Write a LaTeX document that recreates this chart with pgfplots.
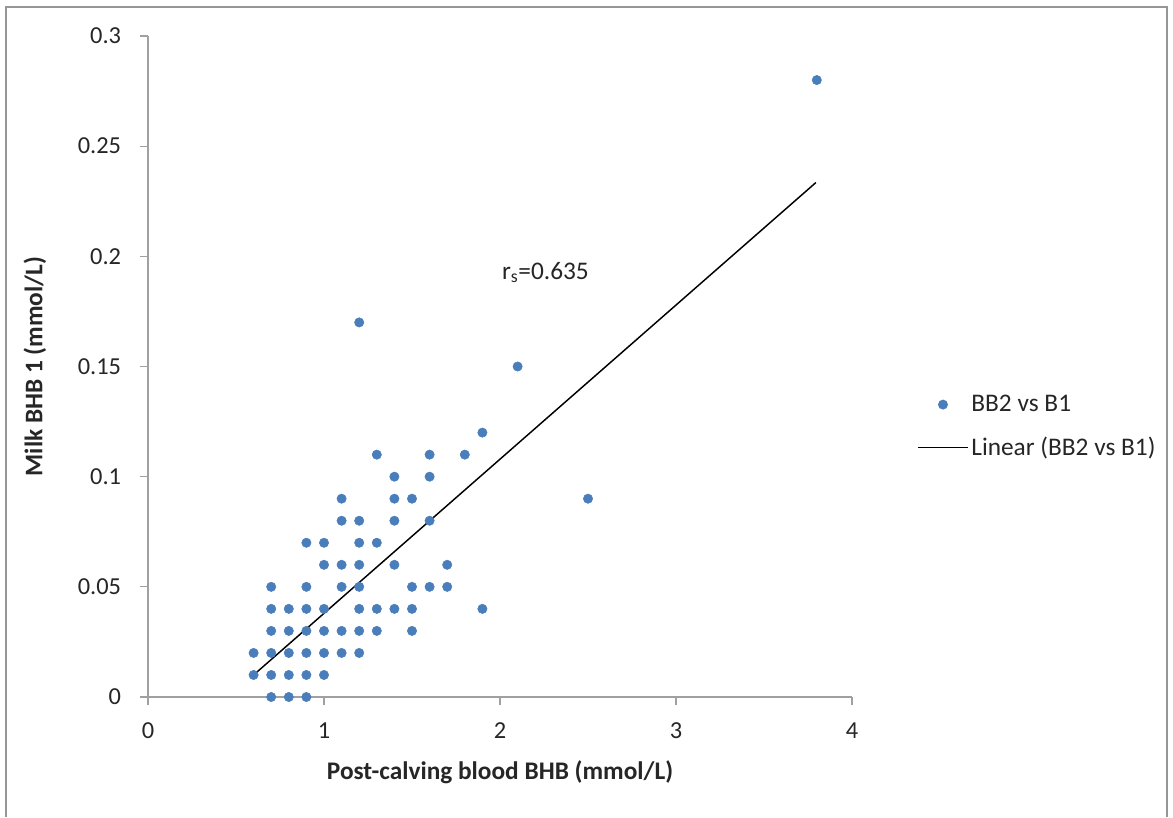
\documentclass[border=0pt]{standalone}
\usepackage{pgfplots}
\pgfplotsset{compat=1.18}
\usepackage{fontspec}
\setmainfont{Carlito}
\definecolor{ptblue}{RGB}{74,126,187}
\definecolor{axgray}{RGB}{160,160,160}
\definecolor{framegray}{RGB}{150,150,150}
\begin{document}
\begin{tikzpicture}
\begin{axis}[
  name=ax,
  anchor=south west, at={(0,0)},
  scale only axis,
  width=528pt, height=495.75pt,
  xmin=0, xmax=4, ymin=0, ymax=0.3,
  axis x line=bottom, axis y line=left,
  axis line style={-, draw=axgray, line width=0.9pt},
  tick style={draw=axgray, line width=0.9pt},
  tick align=outside,
  major tick length=6pt,
  xtick={0,1,2,3,4},
  xticklabels={0,1,2,3,4},
  ytick={0,0.05,0.1,0.15,0.2,0.25,0.3},
  yticklabels={0,0.05,0.1,0.15,0.2,0.25,0.3},
  ticklabel style={font=\fontsize{18.3}{22}\selectfont, text=black!85},
  xticklabel style={anchor=center, inner sep=0pt, yshift=-19pt},
  yticklabel style={anchor=east, inner sep=0pt, xshift=-14pt},
  xlabel={Post-calving blood BHB (mmol/L)},
  ylabel={Milk BHB 1 (mmol/L)},
  label style={font=\fontsize{19}{22}\selectfont\bfseries, text=black!85},
  xlabel style={at={(axis description cs:0.5,-0.1135)}, anchor=center},
  ylabel style={at={(axis description cs:-0.1605,0.5)}, anchor=center, rotate=0},
  clip=false,
  legend style={draw=none, fill=none, inner sep=0pt,
    at={(rel axis cs:1.0923,0.4092)}, anchor=west,
    font=\fontsize{19}{22}\selectfont, text=black!85,
    row sep=13.5pt},
  legend cell align=left,
]
\addplot[only marks, mark=*, mark size=3.5pt, color=ptblue,
  legend image code/.code={\fill[ptblue] (18.75pt,0) circle (3.5pt); \path[draw=none] (0,0) -- (37.5pt,0);}]
  table {
x y
0.6 0.01
0.6 0.02
0.7 0.00
0.7 0.01
0.7 0.02
0.7 0.03
0.7 0.04
0.7 0.05
0.8 0.00
0.8 0.01
0.8 0.02
0.8 0.03
0.8 0.04
0.9 0.00
0.9 0.01
0.9 0.02
0.9 0.03
0.9 0.04
0.9 0.05
0.9 0.07
1.0 0.01
1.0 0.02
1.0 0.03
1.0 0.04
1.0 0.06
1.0 0.07
1.1 0.02
1.1 0.03
1.1 0.05
1.1 0.06
1.1 0.08
1.1 0.09
1.2 0.02
1.2 0.03
1.2 0.04
1.2 0.05
1.2 0.06
1.2 0.07
1.2 0.08
1.2 0.17
1.3 0.03
1.3 0.04
1.3 0.07
1.3 0.11
1.4 0.04
1.4 0.06
1.4 0.08
1.4 0.09
1.4 0.10
1.5 0.03
1.5 0.04
1.5 0.05
1.5 0.09
1.6 0.05
1.6 0.08
1.6 0.10
1.6 0.11
1.7 0.05
1.7 0.06
1.8 0.11
1.9 0.04
1.9 0.12
2.1 0.15
2.5 0.09
3.8 0.28
};
\addlegendentry{BB2 vs B1}
\addplot[black, line width=1.1pt, no marks,
  legend image code/.code={\draw[black, line width=1.1pt] (0,0) -- (37.5pt,0);}]
  coordinates {(0.6,0.0100) (3.795,0.2335)};
\addlegendentry{Linear (BB2 vs B1)}
\node[anchor=base, font=\fontsize{19}{22}\selectfont, text=black!85, inner sep=0pt]
  at (axis cs:2.258,0.1897) {r\textsubscript{s}=0.635};
\end{axis}
\draw[framegray, line width=1pt]
  ([shift={(-106.5pt,-90pt)}]ax.south west) -- ([shift={(-106.5pt,517.5pt)}]ax.south west)
  -- ([shift={(764.25pt,517.5pt)}]ax.south west) -- ([shift={(764.25pt,-90pt)}]ax.south west);
\path[use as bounding box] ([shift={(-111pt,-87.75pt)}]ax.south west)
  rectangle ([shift={(768.75pt,522.75pt)}]ax.south west);
\end{tikzpicture}
\end{document}
